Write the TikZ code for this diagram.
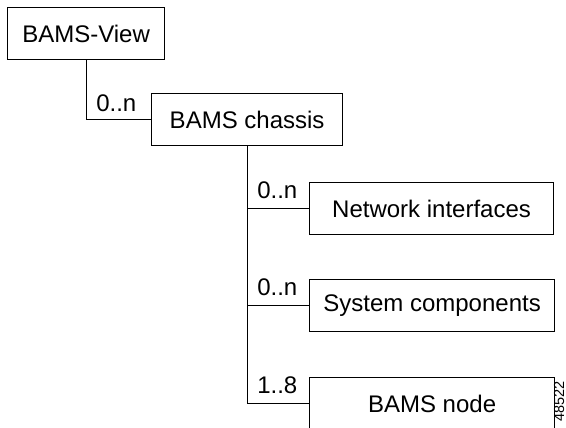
\documentclass[tikz,border=0pt]{standalone}
\usepackage{fontspec}
\setmainfont{Liberation Sans}
\usepackage{tikz}
\usetikzlibrary{calc}
\usetikzlibrary{positioning}

\tikzset{
  objbox/.style={draw, line width=1.2pt, inner sep=0pt, minimum height=52pt, anchor=north west, font=\fontsize{24}{28}\selectfont},
  card/.style={anchor=base west, inner sep=0pt, font=\fontsize{24}{28}\selectfont},
  link/.style={line width=1.2pt}
}

\begin{document}
\begin{tikzpicture}[x=1pt, y=-1pt]
\useasboundingbox (0,0) rectangle (566,428);

\node[objbox, minimum width=157pt] (view) at (7,7) {BAMS-View};
\node[objbox, minimum width=191pt] (chassis) at (151,93) {BAMS chassis};
\node[objbox, minimum width=244pt] (netif) at (309,182) {Network interfaces};
\node[objbox, minimum width=245pt] (syscomp) at (309,279) {System components};
\node[objbox, minimum width=245pt] (bnode) at (309,377) {BAMS node};

% corners of the tree lines
\coordinate (c0) at (view.south |- chassis.west);
\coordinate (c1) at (chassis.south |- netif.west);
\coordinate (c2) at (chassis.south |- syscomp.west);
\coordinate (c3) at (chassis.south |- bnode.west);

\node[card] (m0) at ($(c0)+(10,-8)$) {0..n};
\node[card] (m1) at ($(c1)+(10,-10)$) {0..n};
\node[card] (m2) at ($(c2)+(10,-10)$) {0..n};
\node[card] (m3) at ($(c3)+(10,-10)$) {1..8};

\draw[link] (view.south) -- (c0) -- (chassis.west);
\draw[link] (chassis.south) -- (c3) -- (bnode.west);
\draw[link] (c1) -- (netif.west);
\draw[link] (c2) -- (syscomp.west);

\node[rotate=90, anchor=base east, inner sep=0pt, font=\fontsize{14.5}{16}\selectfont] (figid) at (564,381) {48522};
\end{tikzpicture}
\end{document}
